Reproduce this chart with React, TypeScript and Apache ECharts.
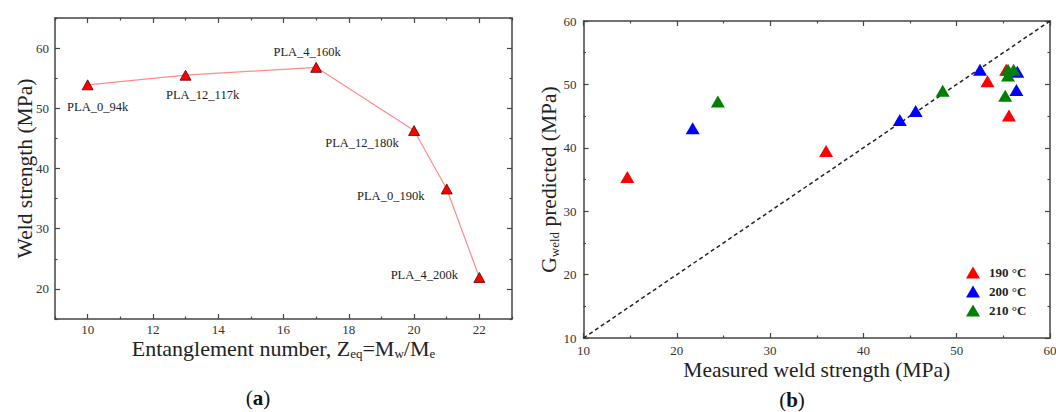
import React, { useEffect, useRef } from 'react';
import * as echarts from 'echarts';

const FONT = 'Liberation Serif';
const AXIS_COLOR = '#444';
const LABEL_COLOR = '#333';
const TITLE_COLOR = '#222';

// ---- panel (a) data ----
const samples = ['PLA_0_94k', 'PLA_12_117k', 'PLA_4_160k', 'PLA_12_180k', 'PLA_0_190k', 'PLA_4_200k'];
const entanglement = [10, 13, 17, 20, 21, 22];
const weldStrength = [53.9, 55.5, 56.8, 46.3, 36.6, 21.9];
const aXMajor = [10, 12, 14, 16, 18, 20, 22];
const aXMinor = [9, 11, 13, 15, 17, 19, 21, 23];
const aYMajor = [20, 30, 40, 50, 60];
const aYMinor = [15, 25, 35, 45, 55, 65];

// label placement (style, not data)
const labelOffsets = [[10, 22], [17, 20], [-9, -15], [-52, 12], [-56, 7], [-55, -2]];

// ---- panel (b) data ----
const legendNames = ['190 °C', '200 °C', '210 °C'];
const red190 = [[14.7, 35.4], [36.0, 39.5], [53.3, 50.5], [55.3, 52.3], [55.6, 45.1]];
const blue200 = [[21.7, 43.1], [43.9, 44.4], [45.6, 45.8], [52.5, 52.3], [56.4, 49.1], [56.5, 52.0]];
const green210 = [[24.4, 47.3], [48.5, 49.0], [55.2, 48.2], [55.5, 52.3], [56.1, 52.3], [55.5, 51.4]];
const parityLine = [[10, 10], [60, 60]];
const bMajor = [10, 20, 30, 40, 50, 60];
const bMinor = [15, 25, 35, 45, 55];

function tickAxes(
  dim: 'x' | 'y',
  gridIndex: number,
  min: number,
  max: number,
  majors: number[],
  minors: number[],
  labelMargin: number,
  name: string,
  nameGap: number,
  nameTextStyle: any
) {
  const sides = dim === 'x' ? ['bottom', 'top'] : ['left', 'right'];
  const line = { show: true, lineStyle: { color: AXIS_COLOR, width: 1.5 } };
  const tickLine = { color: AXIS_COLOR, width: 1.2 };
  const base = { type: 'value', gridIndex, min, max, splitLine: { show: false } };
  return [
    {
      ...base,
      position: sides[0],
      axisLine: line,
      axisTick: { show: true, inside: true, length: 5, customValues: majors, lineStyle: tickLine },
      axisLabel: {
        show: true,
        customValues: majors,
        margin: labelMargin,
        color: LABEL_COLOR,
        fontSize: 13,
        fontFamily: FONT,
      },
      name,
      nameLocation: 'middle',
      nameGap,
      nameMoveOverlap: false,
      nameTextStyle,
    },
    {
      ...base,
      position: sides[0],
      axisLine: { show: false },
      axisTick: { show: true, inside: true, length: 2.5, customValues: minors, lineStyle: tickLine },
      axisLabel: { show: false },
    },
    {
      ...base,
      position: sides[1],
      axisLine: line,
      axisTick: { show: true, inside: true, length: 5, customValues: majors, lineStyle: tickLine },
      axisLabel: { show: false },
    },
    {
      ...base,
      position: sides[1],
      axisLine: { show: false },
      axisTick: { show: true, inside: true, length: 2.5, customValues: minors, lineStyle: tickLine },
      axisLabel: { show: false },
    },
  ];
}

const titleStyle = (size: number) => ({
  fontFamily: FONT,
  fontSize: size,
  color: TITLE_COLOR,
  rich: {
    n: { fontFamily: FONT, fontSize: size, color: TITLE_COLOR },
    s: { fontFamily: FONT, fontSize: 13, color: TITLE_COLOR, padding: [10, 0, 0, 0] },
  },
});

export default function App() {
  const ref = useRef<HTMLDivElement>(null);

  useEffect(() => {
    if (!ref.current) return;
    const chart = echarts.init(ref.current, null, { renderer: 'svg' });

    const xA = tickAxes('x', 0, 9, 23, aXMajor, aXMinor, 4,
      '{n|Entanglement number, Z}{s|eq}{n|=M}{s|w}{n|/M}{s|e}', 18, titleStyle(22));
    const yA = tickAxes('y', 0, 15, 65, aYMajor, aYMinor, 6,
      'Weld strength (MPa)', 19.5, { fontFamily: FONT, fontSize: 21.5, color: TITLE_COLOR });
    const xB = tickAxes('x', 1, 10, 60, bMajor, bMinor, 6,
      'Measured weld strength (MPa)', 21, { fontFamily: FONT, fontSize: 21.5, color: TITLE_COLOR });
    const yB = tickAxes('y', 1, 10, 60, bMajor, bMinor, 7,
      '{n|G}{s|weld}{n| predicted (MPa)}', 23, titleStyle(21.5));

    const scatterSeries = (name: string, data: number[][], color: string) => ({
      name,
      type: 'scatter',
      xAxisIndex: 4,
      yAxisIndex: 4,
      data,
      symbol: 'triangle',
      symbolSize: [14, 12],
      itemStyle: { color, opacity: 1 },
      z: 3,
    });

    const option: any = {
      animation: false,
      backgroundColor: '#ffffff',
      textStyle: { fontFamily: FONT },
      grid: [
        { left: 55, right: 544, top: 18, bottom: 93, containLabel: false, outerBoundsMode: 'none' },
        { left: 583.5, right: 6, top: 21, bottom: 74, containLabel: false, outerBoundsMode: 'none' },
      ],
      xAxis: [...xA, ...xB],
      yAxis: [...yA, ...yB],
      legend: {
        data: legendNames,
        orient: 'vertical',
        left: 961,
        top: 261,
        itemWidth: 14,
        itemHeight: 12,
        itemGap: 6,
        icon: 'triangle',
        selectedMode: false,
        textStyle: {
          fontFamily: FONT,
          fontSize: 13,
          fontWeight: 'bold',
          color: TITLE_COLOR,
          padding: [0, 0, 0, 4],
        },
      },
      series: [
        {
          type: 'line',
          xAxisIndex: 0,
          yAxisIndex: 0,
          data: entanglement.map((x, i) => ({
            value: [x, weldStrength[i]],
            name: samples[i],
            label: { offset: labelOffsets[i] },
          })),
          symbol: 'triangle',
          symbolSize: [11, 10],
          itemStyle: { color: '#ff0000', borderColor: '#5a0000', borderWidth: 0.8 },
          lineStyle: { color: '#ff8a8a', width: 1.2 },
          label: {
            show: true,
            position: 'inside',
            formatter: (p: any) => p.name,
            fontFamily: FONT,
            fontSize: 12.5,
            color: '#222',
          },
          z: 3,
        },
        {
          type: 'line',
          xAxisIndex: 4,
          yAxisIndex: 4,
          data: parityLine,
          symbol: 'none',
          lineStyle: { color: '#222', width: 1.5, type: [4, 3] },
          silent: true,
          z: 2,
        },
        scatterSeries(legendNames[1], blue200, '#0000ff'),
        scatterSeries(legendNames[0], red190, '#ff0000'),
        scatterSeries(legendNames[2], green210, '#008000'),
      ],
      graphic: [
        {
          type: 'text',
          x: 258,
          y: 398,
          style: {
            text: '{p|(}{b|a}{p|)}',
            align: 'center',
            verticalAlign: 'middle',
            textAlign: 'center',
            textVerticalAlign: 'middle',
            rich: {
              p: { fontFamily: FONT, fontSize: 21, fill: '#111' },
              b: { fontFamily: FONT, fontSize: 21, fontWeight: 'bold', fill: '#111' },
            },
          },
        },
        {
          type: 'text',
          x: 792,
          y: 400,
          style: {
            text: '{p|(}{b|b}{p|)}',
            align: 'center',
            verticalAlign: 'middle',
            textAlign: 'center',
            textVerticalAlign: 'middle',
            rich: {
              p: { fontFamily: FONT, fontSize: 21, fill: '#111' },
              b: { fontFamily: FONT, fontSize: 21, fontWeight: 'bold', fill: '#111' },
            },
          },
        },
      ],
    };

    chart.setOption(option);
    return () => chart.dispose();
  }, []);

  return (
    <div
      ref={ref}
      style={{ position: 'fixed', left: 0, top: 0, width: 1056, height: 412, background: '#fff' }}
    />
  );
}
